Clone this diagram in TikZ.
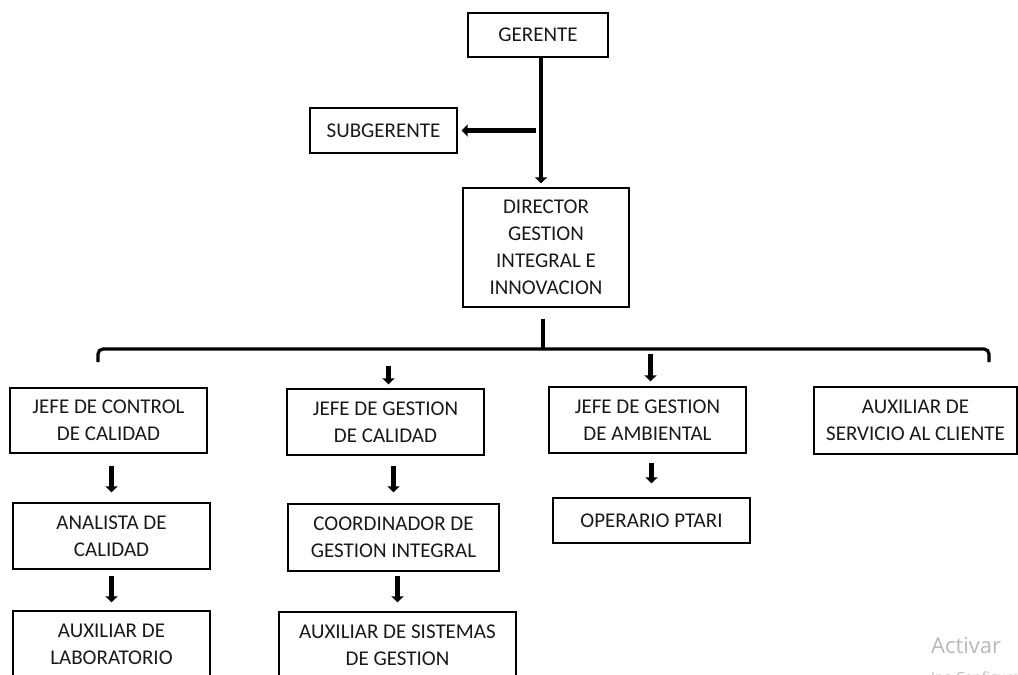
\documentclass[tikz,border=0pt]{standalone}
\usepackage{fontspec}
\setmainfont{Carlito}
\newfontfamily\marcafont{Open Sans}
\usetikzlibrary{arrows.meta}

\begin{document}
\begin{tikzpicture}[x=1pt,y=-1pt,
    caja/.style={draw,line width=1.3pt,inner sep=0pt,align=center,
        font=\fontsize{21}{27}\selectfont,text=black!90},
    flecha/.style={line width=4.5pt,-{Triangle[width=12pt,length=6pt]}},
    llave/.style={line width=3.2pt,rounded corners=5pt}]
    \useasboundingbox (0,0) rectangle (1018,675);
    \clip (0,0) rectangle (1018,675);
    \node [caja,minimum width=140pt,minimum height=44pt] (ger) at (538,35) {GERENTE};
    \node [caja,minimum width=147pt,minimum height=45pt] (sub) at (383.5,130.5) {SUBGERENTE};
    \node [caja,minimum width=166pt,minimum height=119pt] (dir) at (546,247.5)
        {DIRECTOR\\GESTION\\INTEGRAL E\\INNOVACION};
    \node [caja,minimum width=197pt,minimum height=65pt] (jcc) at (108.5,420.5)
        {JEFE DE CONTROL\\DE CALIDAD};
    \node [caja,minimum width=197pt,minimum height=66pt] (jgc) at (385.5,422)
        {JEFE DE GESTION\\DE CALIDAD};
    \node [caja,minimum width=197pt,minimum height=66pt] (jga) at (647.5,420)
        {JEFE DE GESTION\\DE AMBIENTAL};
    \node [caja,minimum width=203pt,minimum height=67pt] (asc) at (915.5,420.5)
        {AUXILIAR DE\\SERVICIO AL CLIENTE};
    \node [caja,minimum width=197pt,minimum height=66pt] (ana) at (111.5,536)
        {ANALISTA DE\\CALIDAD};
    \node [caja,minimum width=211pt,minimum height=67pt] (coo) at (393.5,537.5)
        {COORDINADOR DE\\GESTION INTEGRAL};
    \node [caja,minimum width=197pt,minimum height=45pt] (ope) at (651.5,520.5)
        {OPERARIO PTARI};
    \node [caja,minimum width=197pt,minimum height=66pt] (lab) at (111.5,644)
        {AUXILIAR DE\\LABORATORIO};
    \node [caja,minimum width=237pt,minimum height=66pt] (sis) at (397.5,645)
        {AUXILIAR DE SISTEMAS\\DE GESTION};
    \coordinate (eje) at ([xshift=3pt]ger.south |- sub.east);
    \draw [flecha] ([xshift=3pt]ger.south) -- ([xshift=-5pt,yshift=4pt]dir.north);
    \draw [flecha,shorten <=5pt,shorten >=4pt] (eje) -- (sub.east |- eje);
    \draw [llave] ([xshift=-3pt,yshift=-11pt]dir.south) -- ++(0,31);
    \draw [llave] (98,362) -- (98,349) -- (989,349) -- (989,362);
    \draw [flecha] ([xshift=3pt,yshift=22pt]jgc.north) -- ([xshift=3pt,yshift=4pt]jgc.north);
    \draw [flecha] ([xshift=3pt,yshift=32pt]jga.north) -- ([xshift=3pt,yshift=5pt]jga.north);
    \draw [flecha,shorten <=12pt,shorten >=10pt] (ana.north |- jcc.south) -- (ana.north);
    \draw [flecha,shorten <=10pt,shorten >=11pt] (coo.north |- jgc.south) -- (coo.north);
    \draw [flecha,shorten <=6pt,shorten >=8pt] (lab.north |- ana.south) -- (lab.north);
    \draw [flecha,shorten <=4pt,shorten >=9pt] (sis.north |- coo.south) -- (sis.north);
    \draw [flecha,shorten <=9pt,shorten >=14pt] (ope.north |- jga.south) -- (ope.north);
    \node [anchor=base west,inner sep=0pt,text=black!28,font=\marcafont\fontsize{22}{26}\selectfont]
        (activar) at (931,653) {Activar};
    \node [anchor=base west,inner sep=0pt,text=black!28,font=\marcafont\fontsize{14}{17}\selectfont]
        (config) at (931,682) {Ir a Configuración};
\end{tikzpicture}
\end{document}
